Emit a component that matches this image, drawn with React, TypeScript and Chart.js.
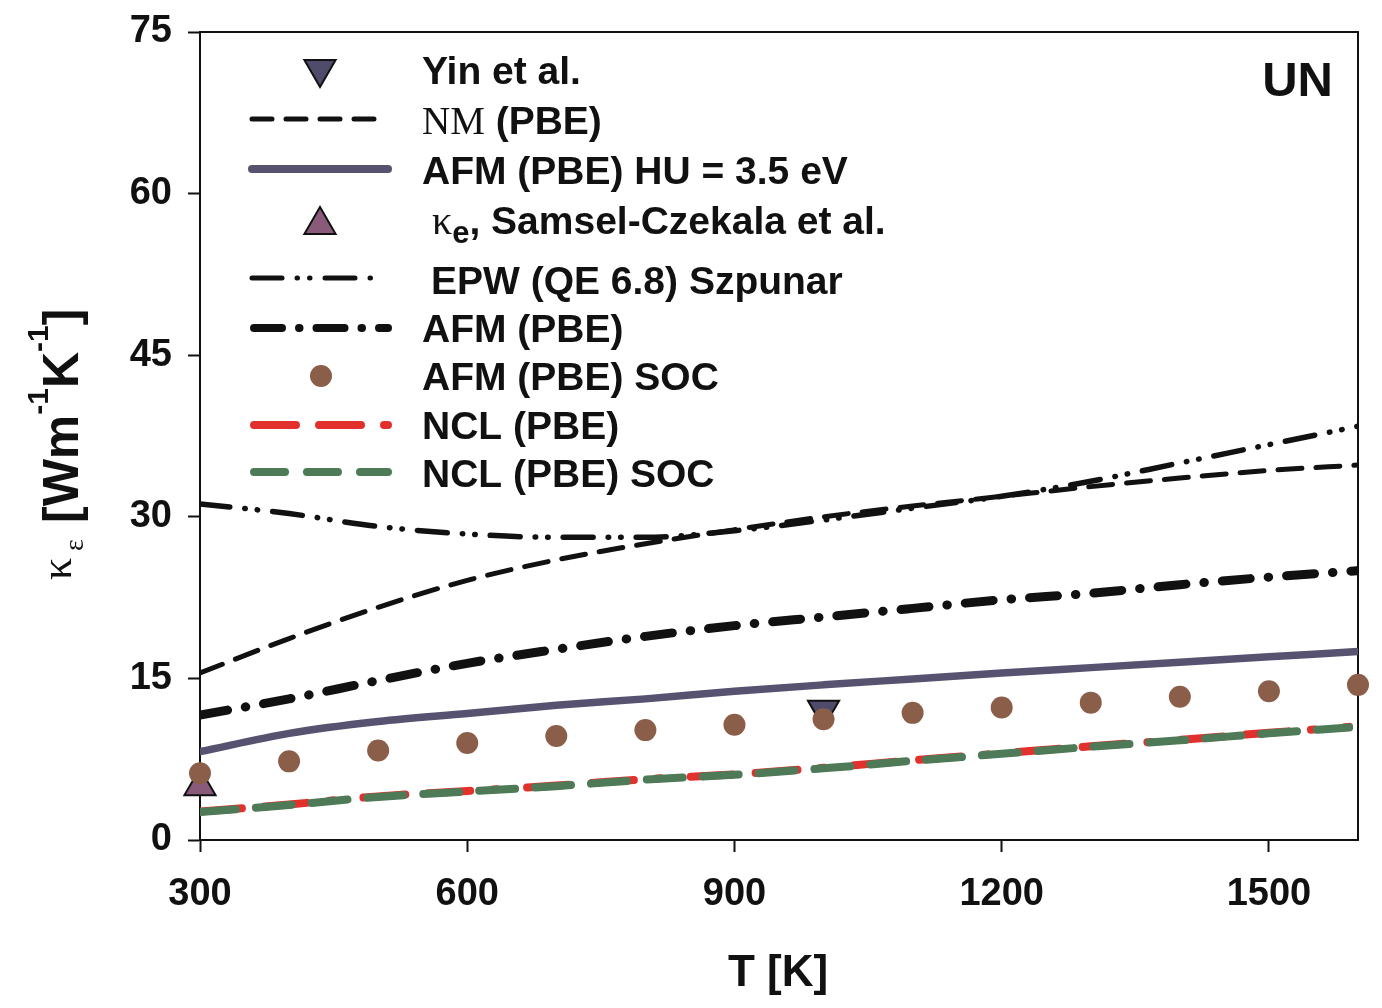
import React, { useEffect, useRef } from 'react';
import Chart from 'chart.js/auto';

// temperatures (K) where the curves are sampled
const temps = [300, 400, 500, 600, 700, 800, 900, 1000, 1100, 1200, 1300, 1400, 1500, 1600];
const nclTemps = [300, 400, 500, 600, 700, 800, 900, 1000, 1100, 1200, 1300, 1400, 1500, 1590];

const nmPbe = [15.5, 18.7, 21.6, 24.1, 26.0, 27.5, 28.8, 30.0, 31.0, 31.9, 32.8, 33.6, 34.3, 34.8];
const epwSzpunar = [31.2, 30.3, 29.1, 28.4, 28.1, 28.1, 28.7, 29.7, 30.8, 31.9, 33.3, 35.0, 36.7, 38.4];
const afmPbe = [11.6, 13.1, 14.8, 16.4, 17.7, 18.9, 19.9, 20.7, 21.5, 22.3, 22.9, 23.7, 24.4, 25.0];
const afmHu = [8.2, 9.9, 11.0, 11.75, 12.5, 13.1, 13.8, 14.4, 14.95, 15.5, 16.0, 16.5, 17.0, 17.5];
const afmSoc = [6.2, 7.3, 8.3, 9.0, 9.65, 10.2, 10.7, 11.2, 11.8, 12.3, 12.75, 13.3, 13.8, 14.4];
const nclPbe = [2.65, 3.3, 4.05, 4.55, 5.05, 5.65, 6.1, 6.7, 7.4, 8.05, 8.7, 9.3, 9.95, 10.5];
const nclSoc = [2.6, 3.25, 4.0, 4.5, 5.0, 5.6, 6.05, 6.65, 7.35, 8.0, 8.65, 9.25, 9.9, 10.45];

const yinT = [1000];
const yinK = [12.1];
const samselT = [300];
const samselK = [5.0];

const xTicks = [300, 600, 900, 1200, 1500];
const yTicks = [0, 15, 30, 45, 60, 75];

const SANS = '"Liberation Sans", Arial, Helvetica, sans-serif';
const SERIF = '"Liberation Serif", "Times New Roman", serif';

const pts = (xs: number[], ys: number[]) => xs.map((x, i) => ({ x, y: ys[i] }));

function seg(ctx: CanvasRenderingContext2D, x1: number, x2: number, y: number, color: string, width: number, dash: number[]) {
    ctx.save();
    ctx.strokeStyle = color;
    ctx.lineWidth = width;
    ctx.lineCap = 'round';
    ctx.setLineDash(dash);
    ctx.beginPath();
    ctx.moveTo(x1, y);
    ctx.lineTo(x2, y);
    ctx.stroke();
    ctx.restore();
}

function tri(ctx: CanvasRenderingContext2D, x: number, y: number, r: number, rot: number, fill: string) {
    let rad = rot;
    ctx.save();
    ctx.fillStyle = fill;
    ctx.strokeStyle = '#111';
    ctx.lineWidth = 2;
    ctx.beginPath();
    ctx.moveTo(x + Math.sin(rad) * r, y - Math.cos(rad) * r);
    rad += (2 * Math.PI) / 3;
    ctx.lineTo(x + Math.sin(rad) * r, y - Math.cos(rad) * r);
    rad += (2 * Math.PI) / 3;
    ctx.lineTo(x + Math.sin(rad) * r, y - Math.cos(rad) * r);
    ctx.closePath();
    ctx.fill();
    ctx.stroke();
    ctx.restore();
}

// draws text made of pieces in different fonts, [text, font, dy]
function runs(ctx: CanvasRenderingContext2D, x: number, y: number, parts: [string, string, number][]) {
    let cx = x;
    for (const [t, f, dy] of parts) {
        ctx.font = f;
        ctx.fillText(t, cx, y + dy);
        cx += ctx.measureText(t).width;
    }
}

const frameAndLegend = {
    id: 'frameAndLegend',
    beforeDatasetsDraw(chart: any) {
        const { ctx, chartArea: a } = chart;
        ctx.save();
        ctx.strokeStyle = '#111';
        ctx.lineWidth = 2;
        ctx.beginPath();
        ctx.moveTo(a.left, a.top);
        ctx.lineTo(a.right, a.top);
        ctx.lineTo(a.right, a.bottom);
        ctx.stroke();
        ctx.restore();
    },
    afterDraw(chart: any) {
        const ctx: CanvasRenderingContext2D = chart.ctx;
        const B = 'bold 39px ' + SANS;
        ctx.save();
        ctx.fillStyle = '#111';
        ctx.textBaseline = 'alphabetic';
        ctx.textAlign = 'left';

        // legend symbols
        tri(ctx, 320, 69, 18, Math.PI, '#4f4b6b');
        seg(ctx, 252, 376, 119, '#111', 5, [20, 14]);
        seg(ctx, 252, 388, 169, '#56526f', 8, []);
        tri(ctx, 320, 225, 18, 0, '#8a5a7a');
        seg(ctx, 252, 378, 278, '#111', 5, [30, 15, 0.5, 12, 0.5, 15]);
        seg(ctx, 254, 388, 328, '#111', 8, [28, 17, 0.5, 17]);
        ctx.fillStyle = '#8b5e4a';
        ctx.beginPath();
        ctx.arc(321, 376, 11, 0, Math.PI * 2);
        ctx.fill();
        seg(ctx, 254, 388, 425, '#e2312d', 8, [42, 23, 42, 23, 4, 30]);
        seg(ctx, 254, 388, 472, '#4e7a58', 8, [31, 22]);

        // legend texts
        ctx.fillStyle = '#111';
        runs(ctx, 422, 84, [['Yin et al.', B, 0]]);
        runs(ctx, 422, 134, [['NM', '39px ' + SERIF, 0], [' (PBE)', B, 0]]);
        runs(ctx, 422, 184, [['AFM (PBE) HU = 3.5 eV', B, 0]]);
        runs(ctx, 432, 234, [['\u03ba', '40px ' + SERIF, 0], ['e', 'bold 31px ' + SANS, 9], [', Samsel-Czekala et al.', B, 0]]);
        runs(ctx, 431, 294, [['EPW (QE 6.8) Szpunar', B, 0]]);
        runs(ctx, 422, 342, [['AFM (PBE)', B, 0]]);
        runs(ctx, 422, 390, [['AFM (PBE) SOC', B, 0]]);
        runs(ctx, 422, 439, [['NCL (PBE)', B, 0]]);
        runs(ctx, 422, 487, [['NCL (PBE) SOC', B, 0]]);

        // panel label
        ctx.font = 'bold 49px ' + SANS;
        ctx.textAlign = 'right';
        ctx.fillText('UN', 1333, 96);

        // x title
        ctx.font = 'bold 44px ' + SANS;
        ctx.textAlign = 'center';
        ctx.fillText('T [K]', 778, 986);

        // y title, rotated
        ctx.textAlign = 'left';
        ctx.translate(78, 580);
        ctx.rotate(-Math.PI / 2);
        runs(ctx, 0, -7, [['\u03ba', '44px ' + SERIF, 0]]);
        runs(ctx, 29, 5, [['\u03b5', '28px ' + SERIF, 0]]);
        const BB = 'bold 50px ' + SANS;
        const SUP = 'bold 30px ' + SANS;
        runs(ctx, 57, 0, [['[Wm', BB, 0], ['-1', SUP, -30], ['K', BB, 0], ['-1', SUP, -30], [']', BB, 0]]);
        ctx.restore();
    }
};

export default function App() {
    const chartRef = useRef<HTMLCanvasElement>(null);
    const chartInstance = useRef<Chart | null>(null);

    useEffect(() => {
        document.body.style.margin = '0';
        if (!chartRef.current) return;
        if (chartInstance.current) chartInstance.current.destroy();
        const ctx = chartRef.current.getContext('2d');
        if (!ctx) return;

        Chart.defaults.font.family = SANS;
        Chart.defaults.color = '#111';

        const line = (data: number[], xs: number[], color: string, width: number, dash: number[], order: number) => ({
            data: pts(xs, data),
            borderColor: color,
            backgroundColor: color,
            borderWidth: width,
            borderDash: dash,
            borderCapStyle: 'round',
            pointRadius: 0,
            cubicInterpolationMode: 'monotone',
            order
        });

        chartInstance.current = new Chart(ctx, {
            type: 'line',
            data: {
                datasets: [
                    {
                        label: 'AFM (PBE) SOC',
                        data: pts(temps, afmSoc),
                        showLine: false,
                        pointRadius: 11,
                        pointBackgroundColor: '#8b5e4a',
                        pointBorderWidth: 0,
                        clip: false,
                        order: 0
                    },
                    {
                        label: 'Yin et al.',
                        data: pts(yinT, yinK),
                        showLine: false,
                        pointStyle: 'triangle',
                        pointRotation: 180,
                        pointRadius: 18,
                        pointBackgroundColor: '#4f4b6b',
                        pointBorderColor: '#111',
                        pointBorderWidth: 2,
                        clip: false,
                        order: 1
                    },
                    {
                        label: 'Samsel-Czekala et al.',
                        data: pts(samselT, samselK),
                        showLine: false,
                        pointStyle: 'triangle',
                        pointRadius: 18,
                        pointBackgroundColor: '#8a5a7a',
                        pointBorderColor: '#111',
                        pointBorderWidth: 2,
                        clip: false,
                        order: 1
                    },
                    { label: 'NCL (PBE) SOC', ...line(nclSoc, nclTemps, '#4e7a58', 8, [36, 20], 2) },
                    { label: 'NCL (PBE)', ...line(nclPbe, nclTemps, '#e2312d', 8, [42, 23, 42, 23, 4, 30], 3) },
                    { label: 'AFM (PBE) HU = 3.5 eV', ...line(afmHu, temps, '#56526f', 7.5, [], 4) },
                    { label: 'AFM (PBE)', ...line(afmPbe, temps, '#111', 9, [28, 18, 0.5, 18], 5) },
                    { label: 'EPW (QE 6.8) Szpunar', ...line(epwSzpunar, temps, '#111', 5.5, [30, 15, 0.5, 12, 0.5, 15], 6) },
                    { label: 'NM (PBE)', ...line(nmPbe, temps, '#111', 5, [24, 14], 7) }
                ]
            },
            options: {
                responsive: false,
                animation: false,
                devicePixelRatio: 1,
                layout: { padding: { top: 32, right: 24, left: 0, bottom: 0 } },
                plugins: {
                    legend: { display: false },
                    tooltip: { enabled: false }
                },
                scales: {
                    x: {
                        type: 'linear',
                        min: 300,
                        max: 1600,
                        afterBuildTicks: (s: any) => { s.ticks = xTicks.map((v) => ({ value: v })); },
                        afterFit: (s: any) => { s.height = 168; s.paddingLeft = 0; s.paddingRight = 0; },
                        grid: { drawOnChartArea: false, tickLength: 12, tickColor: '#111', tickWidth: 2 },
                        border: { display: true, color: '#111', width: 2 },
                        ticks: {
                            font: { size: 38, weight: 'bold' },
                            color: '#111',
                            padding: 20,
                            maxRotation: 0,
                            callback: (v: any) => String(v)
                        }
                    },
                    y: {
                        min: 0,
                        max: 75,
                        afterBuildTicks: (s: any) => { s.ticks = yTicks.map((v) => ({ value: v })); },
                        afterFit: (s: any) => { s.width = 200; s.paddingTop = 0; s.paddingBottom = 0; },
                        grid: { drawOnChartArea: false, tickLength: 12, tickColor: '#111', tickWidth: 2 },
                        border: { display: true, color: '#111', width: 2 },
                        ticks: {
                            font: { size: 38, weight: 'bold' },
                            color: '#111',
                            padding: 16,
                            callback: (v: any) => String(v)
                        }
                    }
                }
            } as any,
            plugins: [frameAndLegend]
        } as any);

        return () => {
            if (chartInstance.current) {
                chartInstance.current.destroy();
                chartInstance.current = null;
            }
        };
    }, []);

    return (
        <div style={{ width: 1382, height: 1008, background: '#fff' }}>
            <canvas ref={chartRef} width={1382} height={1008}></canvas>
        </div>
    );
}
